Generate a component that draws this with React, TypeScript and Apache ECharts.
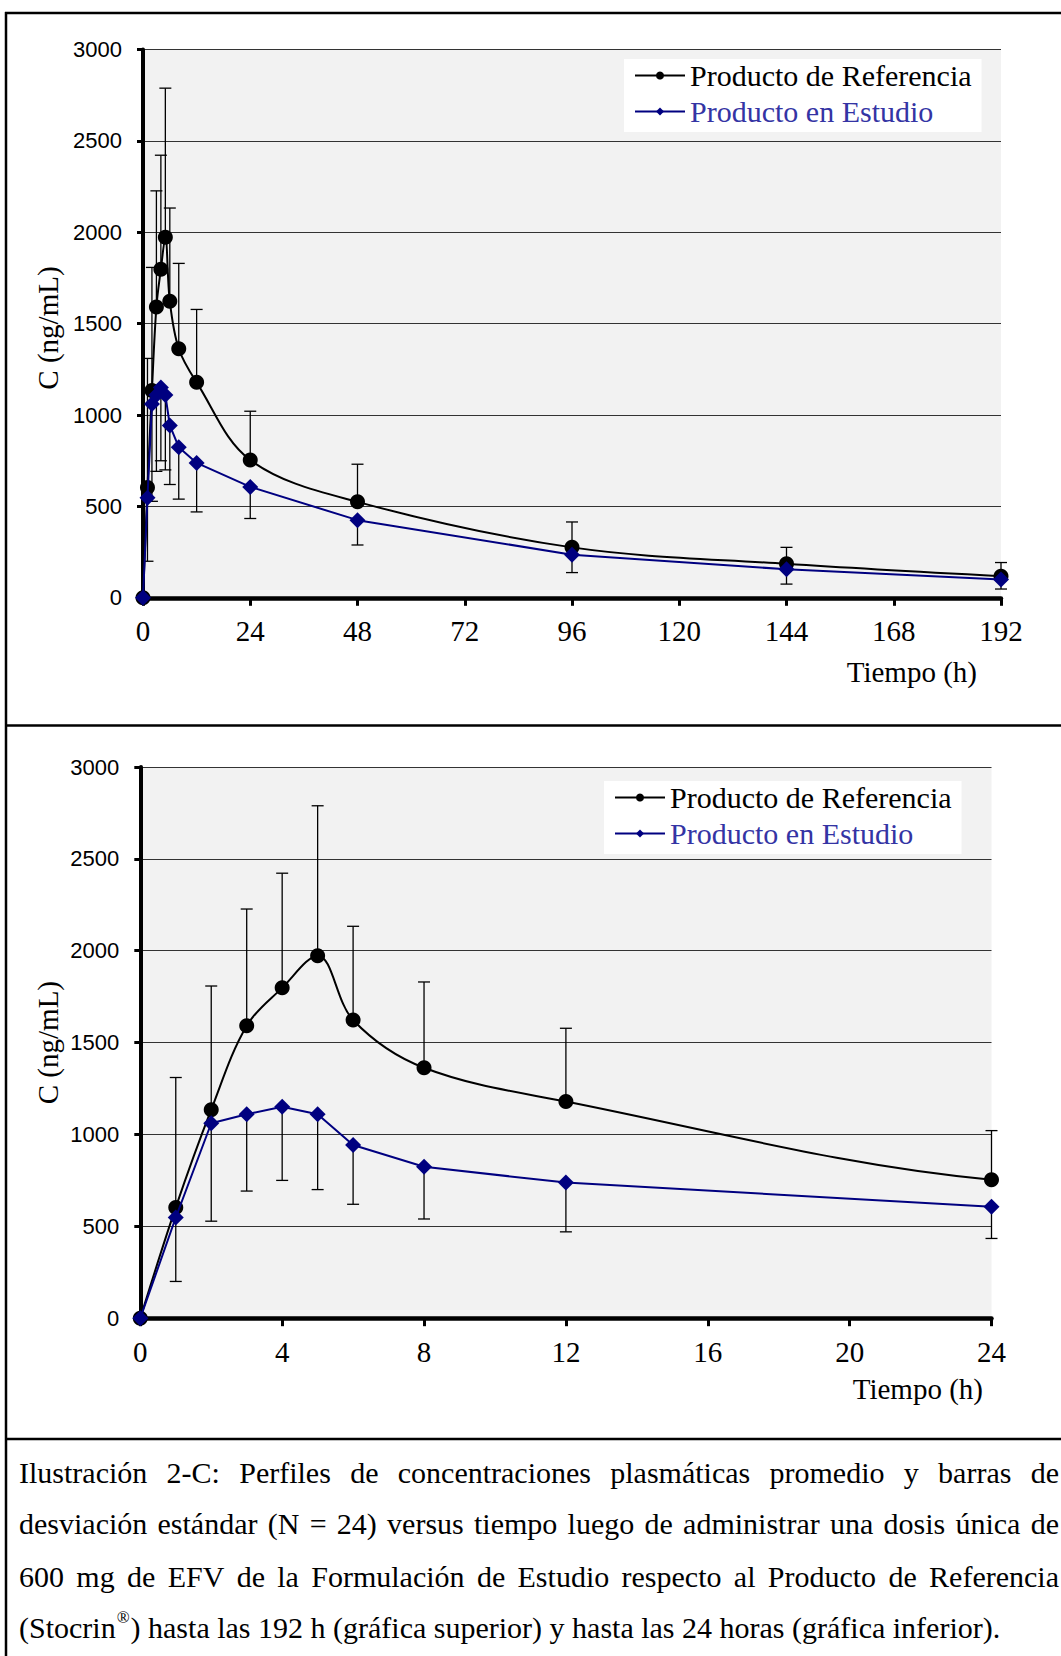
import { useEffect, useRef } from "react";
import * as echarts from "echarts";

// ---- data ----
const TIMES = [0, 1, 2, 3, 4, 5, 6, 8, 12, 24, 48, 96, 144, 192];
const REF_MEAN = [0, 603, 1135, 1592, 1798, 1973, 1623, 1363, 1179, 754, 525, 276, 186, 118];
const REF_SD = [0, 707, 673, 635, 624, 816, 510, 467, 399, 267, 206, 139, 90, 75];
const STUDY_MEAN = [0, 548, 1061, 1110, 1151, 1110, 943, 824, 738, 607, 425, 236, 156, 100];
const STUDY_SD = [0, 348, 533, 418, 401, 410, 323, 284, 268, 173, 136, 98, 81, 52];

const REF_NAME = "Producto de Referencia";
const STUDY_NAME = "Producto en Estudio";
const Y_NAME = "C (ng/mL)";
const X_NAME = "Tiempo (h)";

const TOP_X_MAX = 192;
const TOP_X_STEP = 24;
const BOTTOM_X_MAX = 24;
const BOTTOM_X_STEP = 4;
const Y_MAX = 3000;
const Y_STEP = 500;

const CAPTION_LINES = [
  "Ilustración 2-C: Perfiles de concentraciones plasmáticas promedio y barras de",
  "desviación estándar (N = 24) versus tiempo luego de administrar una dosis única de",
  "600 mg de EFV de la Formulación de Estudio respecto al Producto de Referencia",
];
const CAPTION_LAST_A = "(Stocrin";
const CAPTION_LAST_SUP = "®";
const CAPTION_LAST_B = ") hasta las 192 h (gráfica superior) y hasta las 24 horas (gráfica inferior).";

// ---- styling ----
const SERIF = "'Liberation Serif', 'Times New Roman', serif";
const SANS = "'Liberation Sans', Arial, sans-serif";
const BLUE = "#000080";
const BLUE_TEXT = "#3434a4";
const W = 1061;
const H = 1656;

function measure(text: string, size: number) {
  const c = document.createElement("canvas").getContext("2d")!;
  c.font = `${size}px ${SERIF}`;
  return c.measureText(text).width;
}

function textEl(text: string, x: number, y: number, size: number, opts: any = {}) {
  const align = opts.align || "left";
  const va = opts.va || "middle";
  return {
    type: "text",
    x,
    y,
    rotation: opts.rotation || 0,
    silent: true,
    style: {
      text,
      font: `${size}px ${opts.family || SERIF}`,
      fill: opts.color || "#000",
      align,
      verticalAlign: va,
      textAlign: align,
      textVerticalAlign: va,
    },
  };
}

function errorItem(params: any, api: any) {
  const x = api.value(0);
  const m = api.value(1);
  const e = api.value(2);
  const p0 = api.coord([x, m]);
  const p1 = api.coord([x, e]);
  const style = { stroke: "#000", lineWidth: 1.3, fill: "none" };
  return {
    type: "group",
    children: [
      { type: "line", shape: { x1: p0[0], y1: p0[1], x2: p1[0], y2: p1[1] }, style },
      { type: "line", shape: { x1: p1[0] - 6, y1: p1[1], x2: p1[0] + 6, y2: p1[1] }, style },
    ],
  };
}

function buildSeries(idx: number, xMax: number) {
  const all = TIMES.map((t, i) => i);
  const keep = all.filter((i) => TIMES[i] <= xMax);
  const refLine = all.map((i) => [TIMES[i], REF_MEAN[i]]);
  const studyLine = all.map((i) => [TIMES[i], STUDY_MEAN[i]]);
  const refErr = keep.filter((i) => REF_SD[i] > 0).map((i) => [TIMES[i], REF_MEAN[i], REF_MEAN[i] + REF_SD[i]]);
  const studyErr = keep
    .filter((i) => STUDY_SD[i] > 0)
    .map((i) => [TIMES[i], STUDY_MEAN[i], STUDY_MEAN[i] - STUDY_SD[i]]);
  return [
    {
      type: "custom",
      xAxisIndex: idx,
      yAxisIndex: idx,
      renderItem: errorItem,
      data: refErr,
      encode: { x: 0, y: [1, 2] },
      z: 1,
      silent: true,
    },
    {
      type: "custom",
      xAxisIndex: idx,
      yAxisIndex: idx,
      renderItem: errorItem,
      data: studyErr,
      encode: { x: 0, y: [1, 2] },
      z: 1,
      silent: true,
    },
    {
      name: REF_NAME,
      type: "line",
      xAxisIndex: idx,
      yAxisIndex: idx,
      data: refLine,
      smooth: 0.35,
      symbol: "circle",
      symbolSize: 15,
      showAllSymbol: true,
      color: "#000",
      itemStyle: { color: "#000" },
      lineStyle: { color: "#000", width: 2 },
      z: 3,
      clip: true,
    },
    {
      name: STUDY_NAME,
      type: "line",
      xAxisIndex: idx,
      yAxisIndex: idx,
      data: studyLine,
      symbol: "diamond",
      symbolSize: 16,
      showAllSymbol: true,
      color: BLUE,
      itemStyle: { color: BLUE },
      lineStyle: { color: BLUE, width: 2 },
      z: 4,
      clip: true,
    },
  ];
}

function xAxis(idx: number, max: number, step: number) {
  return {
    type: "value",
    gridIndex: idx,
    min: 0,
    max,
    interval: step,
    axisLine: { show: true, onZero: false, lineStyle: { color: "#000", width: 4.5 } },
    axisTick: { show: true, inside: false, length: 8, lineStyle: { color: "#000", width: 3 } },
    axisLabel: { color: "#000", fontFamily: SERIF, fontSize: 29, margin: 19 },
    splitLine: { show: false },
  };
}

function yAxis(idx: number) {
  return {
    type: "value",
    gridIndex: idx,
    min: 0,
    max: Y_MAX,
    interval: Y_STEP,
    axisLine: { show: true, lineStyle: { color: "#000", width: 4 } },
    axisTick: { show: true, inside: false, length: 6, lineStyle: { color: "#000", width: 3 } },
    axisLabel: {
      color: "#000",
      fontFamily: SANS,
      fontSize: 22,
      margin: 21,
      formatter: (v: number) => String(v),
    },
    splitLine: { show: true, lineStyle: { color: "#333", width: 1 } },
  };
}

function legend(left: number, top: number) {
  return {
    left,
    top,
    orient: "vertical",
    backgroundColor: "#fff",
    padding: [1.5, 10, 5.5, 10],
    itemGap: 6,
    itemWidth: 50,
    itemHeight: 10,
    selectedMode: false,
    textStyle: { fontFamily: SERIF, fontSize: 30, color: "#000", lineHeight: 30 },
    data: [
      { name: REF_NAME, textStyle: { color: "#000" } },
      { name: STUDY_NAME, textStyle: { color: BLUE_TEXT } },
    ],
  };
}

function captionGraphics() {
  const size = 30;
  const left = 19;
  const right = 1059;
  const ys = [1472, 1523.5, 1576, 1627];
  const els: any[] = [];
  CAPTION_LINES.forEach((line, li) => {
    const words = line.split(" ");
    const widths = words.map((w) => measure(w, size));
    const total = widths.reduce((a, b) => a + b, 0);
    const gap = (right - left - total) / (words.length - 1);
    let x = left;
    words.forEach((w, wi) => {
      els.push(textEl(w, x, ys[li], size));
      x += widths[wi] + gap;
    });
  });
  const wA = measure(CAPTION_LAST_A, size);
  els.push(textEl(CAPTION_LAST_A, left, ys[3], size));
  els.push(textEl(CAPTION_LAST_SUP, left + wA + 1, ys[3] - 10, 17));
  const wSup = measure(CAPTION_LAST_SUP, 17);
  els.push(textEl(CAPTION_LAST_B, left + wA + wSup + 2, ys[3], size));
  return els;
}

function frameGraphics() {
  const s = { stroke: "#000", lineWidth: 2.5 };
  return [
    { type: "line", silent: true, shape: { x1: 5, y1: 13, x2: W, y2: 13 }, style: s },
    { type: "line", silent: true, shape: { x1: 6, y1: 12, x2: 6, y2: H }, style: s },
    { type: "line", silent: true, shape: { x1: 5, y1: 725.5, x2: W, y2: 725.5 }, style: s },
    { type: "line", silent: true, shape: { x1: 5, y1: 1439, x2: W, y2: 1439 }, style: s },
  ];
}

export default function App() {
  const ref = useRef<HTMLDivElement>(null);
  useEffect(() => {
    if (!ref.current) return;
    const chart = echarts.init(ref.current, undefined, { renderer: "svg" });
    const grids = [
      { left: 143, top: 49.6, width: 858, height: 548.2 },
      { left: 140.3, top: 767, width: 851.2, height: 551.2 },
    ];
    chart.setOption({
      animation: false,
      backgroundColor: "#fff",
      grid: grids.map((g) => ({ ...g, show: true, backgroundColor: "#f2f2f2", borderWidth: 0, containLabel: false })),
      xAxis: [xAxis(0, TOP_X_MAX, TOP_X_STEP), xAxis(1, BOTTOM_X_MAX, BOTTOM_X_STEP)],
      yAxis: [yAxis(0), yAxis(1)],
      legend: [legend(624, 59), legend(604, 781)],
      series: [...buildSeries(0, TOP_X_MAX), ...buildSeries(1, BOTTOM_X_MAX)],
      graphic: [
        ...frameGraphics(),
        textEl(Y_NAME, 48, 328, 29, { align: "center", rotation: Math.PI / 2 }),
        textEl(Y_NAME, 48, 1042.6, 29, { align: "center", rotation: Math.PI / 2 }),
        textEl(X_NAME, 977, 672, 29, { align: "right" }),
        textEl(X_NAME, 983, 1389, 29, { align: "right" }),
        ...captionGraphics(),
      ],
    });
    return () => chart.dispose();
  }, []);
  return <div ref={ref} style={{ position: "absolute", left: 0, top: 0, width: W, height: H }} />;
}
